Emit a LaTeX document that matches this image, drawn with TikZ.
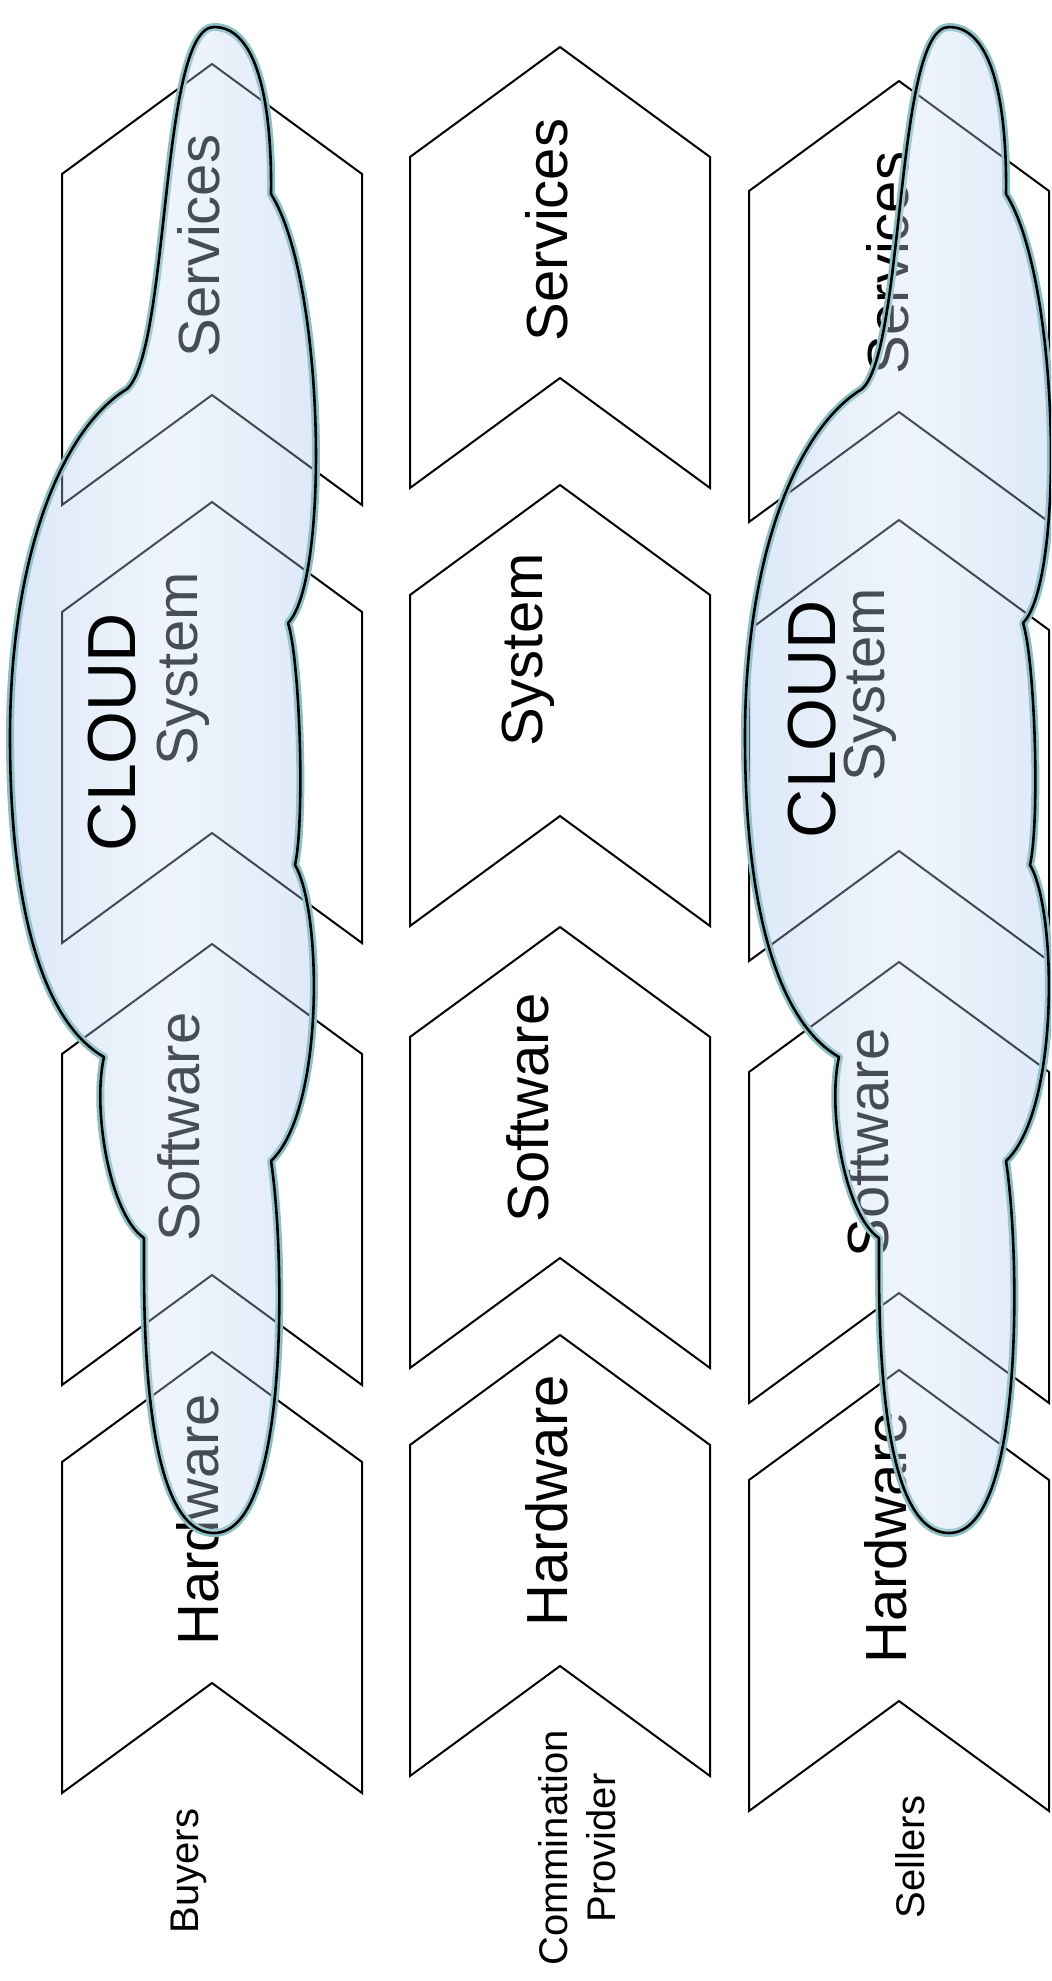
\documentclass[tikz,border=0pt]{standalone}
\usepackage{fontspec}
\setmainfont{Liberation Sans}
\usepackage{tikz}
\usetikzlibrary{positioning}
\definecolor{cloudblue}{RGB}{158,192,237}
\definecolor{cloudhalo}{RGB}{140,192,192}
\tikzset{
	stagebox/.style={draw=black, line width=1pt, fill=white, line join=miter}
}
\tikzset{
	stagetext/.style={rotate=90, font=\fontsize{29}{34}\selectfont}
}
\tikzset{
	partytext/.style={rotate=90, align=center, font=\fontsize{20}{24}\selectfont}
}
\tikzset{
	cloudtext/.style={rotate=90, font=\fontsize{34}{40}\selectfont}
}
\tikzset{
	cloudfill/.style={left color=cloudblue, right color=cloudblue, middle color=cloudblue!45!white, fill opacity=0.35},
	cloudedge/.style={draw=black, line width=1.3pt, line join=round}
}
% one stage of the chain, pointing up
\newcommand{\stagechevron}[2]{%
  \draw[stagebox] (#1,#2) -- ++(150,-110) -- ++(150,110) -- ++(0,331)
    -- ++(-150,-110) -- ++(-150,110) -- cycle;}
\newcommand{\cloudoutline}{%
  (127,389) .. controls (170,350) and (160,27) .. (214,27)
  .. controls (262,27) and (272,120) .. (271,194)
  .. controls (325,280) and (330,580) .. (288,623)
  .. controls (300,660) and (305,820) .. (295,865)
  .. controls (322,910) and (325,1110) .. (271,1161)
  .. controls (285,1250) and (290,1533) .. (214,1533)
  .. controls (140,1533) and (144,1300) .. (144,1238)
  .. controls (110,1215) and (92,1110) .. (104,1057)
  .. controls (40,1020) and (10,900) .. (10,737)
  .. controls (10,560) and (60,430) .. (127,389) -- cycle}

\begin{document}
\begin{tikzpicture}[x=0.5pt, y=-0.5pt]
      \fill[white] (0,0) rectangle (1051,1981);
      \useasboundingbox (0,0) rectangle (1051,1981);
      \clip (0,0) rectangle (1051,1981);
      % buyers
      \stagechevron{62}{174}
      \stagechevron{62}{612}
      \stagechevron{62}{1054}
      \stagechevron{62}{1462}
      \node[stagetext] (b-serv) at (199,246) {Services};
      \node[stagetext] (b-sys) at (183,669) {System};
      \node[stagetext] (b-soft) at (179,1127) {Software};
      \node[stagetext] (b-hard) at (198,1520) {Hardware};
      % provider
      \stagechevron{410}{157}
      \stagechevron{410}{595}
      \stagechevron{410}{1037}
      \stagechevron{410}{1445}
      \node[stagetext] (p-serv) at (547,230) {Services};
      \node[stagetext] (p-sys) at (528,650) {System};
      \node[stagetext] (p-soft) at (528,1108) {Software};
      \node[stagetext] (p-hard) at (547,1501) {Hardware};
      % sellers
      \stagechevron{749}{191}
      \stagechevron{749}{630}
      \stagechevron{749}{1072}
      \stagechevron{749}{1480}
      \node[stagetext] (s-serv) at (888,263) {Services};
      \node[stagetext] (s-sys) at (870,685) {System};
      \node[stagetext] (s-soft) at (868,1143) {Software};
      \node[stagetext] (s-hard) at (886,1538) {Hardware};
      % clouds
      \draw[cloudhalo, line width=4pt, line join=round] \cloudoutline;
      \shade[cloudfill] \cloudoutline;
      \draw[cloudedge] \cloudoutline;
      \begin{scope}[shift={(735,0)}]
        \draw[cloudhalo, line width=4pt, line join=round] \cloudoutline;
        \shade[cloudfill] \cloudoutline;
        \draw[cloudedge] \cloudoutline;
      \end{scope}
      \node[cloudtext] (b-cloud) at (112,732) {CLOUD};
      \node[cloudtext] (s-cloud) at (812,719) {CLOUD};
      % parties
      \node[partytext] (buyers) at (189,1871) {Buyers};
      \node[partytext] (provider) at (577,1848) {Commination\\Provider};
      \node[partytext] (sellers) at (910,1857) {Sellers};
    \end{tikzpicture}
\end{document}
